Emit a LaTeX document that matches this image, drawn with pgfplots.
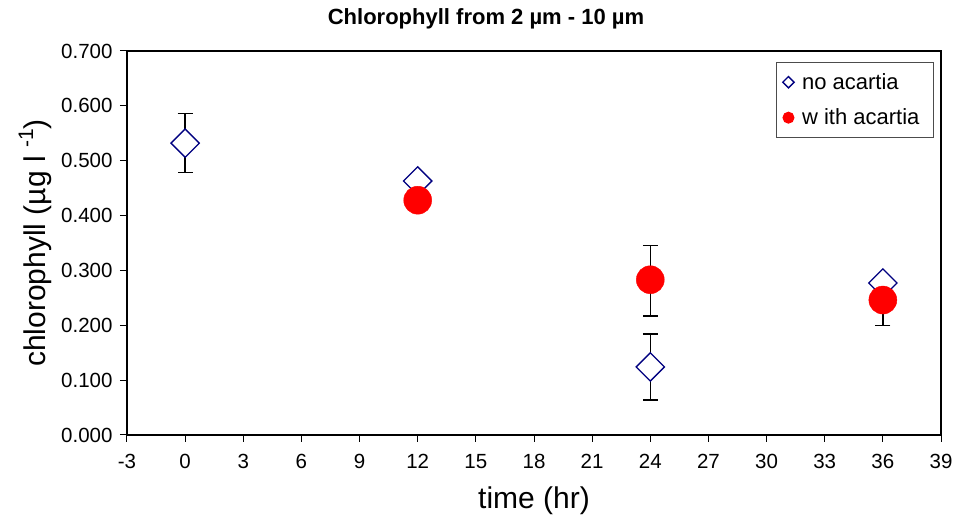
\documentclass[border=0pt]{standalone}
\usepackage{fontspec}
\setmainfont{Liberation Sans}
\usepackage{pgfplots}
\pgfplotsset{compat=1.18}
\definecolor{navy}{RGB}{0,0,128}

\begin{document}
\begin{tikzpicture}
\begin{axis}[
    width=814pt, height=384pt, scale only axis,
    xmin=-3, xmax=39, ymin=0, ymax=0.7,
    xtick={-3,0,...,39},
    ytick={0,0.1,...,0.7},
    xtick pos=left, ytick pos=left,
    tick align=outside,
    major tick length=7pt,
    axis line style={line width=1.3pt},
    every tick/.style={black, line width=1pt},
    /pgf/number format/assume math mode=true,
    tick label style={font=\fontsize{20.5}{22}\selectfont},
    xticklabel style={yshift=-9pt},
    yticklabel style={xshift=-4pt, /pgf/number format/.cd, fixed, fixed zerofill, precision=3},
    xlabel={time (hr)},
    ylabel={chlorophyll (µg l {\fontsize{21}{22}\selectfont\raisebox{12pt}{-1}})},
    label style={font=\fontsize{30}{32}\selectfont},
    xlabel style={yshift=-11pt},
    ylabel style={yshift=3pt},
    title={\bfseries Chlorophyll from 2 µm - 10 µm},
    title style={font=\fontsize{22}{23}\selectfont, yshift=12pt, xshift=-48pt},
]
\addplot[only marks, mark=square*, mark size=10pt,
    mark options={rotate=45, draw=navy, fill=white, line width=1.3pt},
    error bars/.cd, y dir=both, y explicit,
    error bar style={black, line width=1.3pt},
    error mark options={rotate=90, mark size=7.5pt, line width=1.3pt, black}]
    coordinates {
    (0,0.532) +- (0,0.054)
    (12,0.463) +- (0,0.0)
    (24,0.124) +- (0,0.060)
    (36,0.277) +- (0,0.0)
};
\addplot[only marks, mark=*, mark size=14pt,
    mark options={draw=red, fill=red},
    error bars/.cd, y dir=both, y explicit,
    error bar style={black, line width=1.3pt},
    error mark options={rotate=90, mark size=7.5pt, line width=1.3pt, black}]
    coordinates {
    (12,0.428) += (0,0.0) -= (0,0.0)
    (24,0.283) += (0,0.063) -= (0,0.066)
    (36,0.246) += (0,0.01) -= (0,0.046)
};
\end{axis}
\begin{axis}[
    width=814pt, height=384pt, scale only axis,
    xmin=-3, xmax=39, ymin=0, ymax=0.7,
    hide axis,
    legend style={at={(0.9914,0.9713)}, anchor=north east, draw=black!70,
        line width=1pt,
        font=\fontsize{22}{23}\selectfont, row sep=14pt,
        inner xsep=6pt, inner ysep=9pt,
        nodes={inner xsep=8pt}},
    legend cell align=left,
    legend image code/.code={\draw[#1] (0.45cm,0cm) -- plot coordinates {(0.45cm,0cm)};},
]
\addlegendimage{only marks, mark=square*, mark size=4pt,
    mark options={rotate=45, draw=navy, fill=white, line width=1.3pt}}
\addlegendentry{no acartia}
\addlegendimage{only marks, mark=*, mark size=5.5pt, mark options={draw=red, fill=red}}
\addlegendentry{w ith acartia}
\end{axis}
\path (current axis.south west) ++(-127pt,-86pt) rectangle ++(958pt,521pt);
\end{tikzpicture}
\end{document}
